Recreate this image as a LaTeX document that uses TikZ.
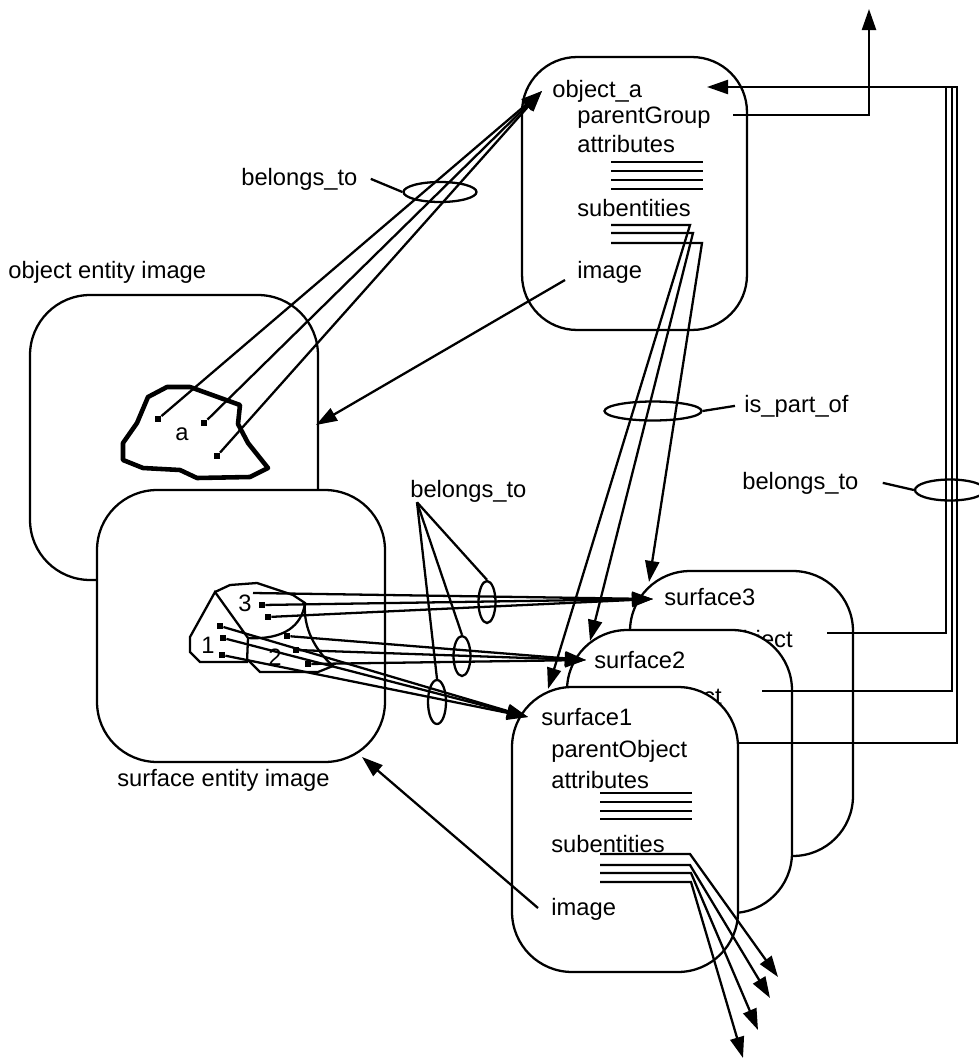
\documentclass[tikz,border=0pt]{standalone}
\usepackage{fontspec}
\setmainfont{Liberation Sans}
\usetikzlibrary{shapes.geometric, arrows.meta, positioning}

\begin{document}
\begin{tikzpicture}[x=0.02cm, y=-0.02cm, font=\fontsize{13.5}{16}\selectfont]
\tikzstyle{entity} = [rectangle, draw, fill=white, line width=1.3pt, rounded corners=1.2cm]
\tikzstyle{txt} = [anchor=base west, inner sep=0pt]
\tikzstyle{ring} = [ellipse, draw, line width=1.3pt, inner sep=0pt]
\tikzstyle{dot} = [rectangle, fill, inner sep=0pt, minimum size=3.5pt]
\tikzstyle{line} = [draw, line width=1.3pt]
\tikzstyle{arr} = [draw, line width=1.3pt, -{Triangle[length=12pt, width=8pt]}]
\tikzstyle{blob} = [draw, line width=2.6pt, line join=round]

\useasboundingbox (0,0) rectangle (979,1061);

% entity images
\node [entity, minimum width=5.76cm, minimum height=5.7cm] (objimg) at (174,437.5) {};
\node [entity, minimum width=5.76cm, minimum height=5.44cm] (surfimg) at (241,626) {};
\node [txt] (objimglbl) at (8,278) {object entity image};
\node [txt] (surfimglbl) at (117,786) {surface entity image};

% object_a
\node [entity, rounded corners=1.1cm, minimum width=4.5cm, minimum height=5.46cm] (obja) at (634.5,193.5) {};
\node [txt] (objname) at (552,97) {object\_a};
\node [txt] (pgroup) at (577,123) {parentGroup};
\node [txt] (attra) at (577,153) {attributes};
\node [txt] (suba) at (577,216) {subentities};
\node [txt] (imga) at (577,278) {image};
\foreach \y in {162,171,180,189} \draw [line] (611,\y) -- (703,\y);

% region a
\draw [blob] (148,397) -- (167,387) -- (190,387) -- (240,405) -- (238,424) -- (248,443) -- (268,468)
  -- (250,477) -- (197,478) -- (180,470) -- (143,468) -- (123,460) -- (123,443) -- (137,423) -- cycle;
\node (alabel) at (182,434) {a};
\node [dot] (a1) at (158,419) {};
\node [dot] (a2) at (204,423) {};
\node [dot] (a3) at (217,456) {};

% regions 1, 2, 3
\draw [line] (215,592) -- (190,637) -- (190,652) -- (200,662) -- (247,662) -- (248,638) -- cycle;
\draw [line] (215,592) -- (230,585) -- (257,583) -- (293,595) -- (305,603)
  .. controls (302,625) and (285,640) .. (248,638);
\draw [line] (248,660) -- (260,672) -- (318,672) -- (333,666)
  .. controls (315,650) and (303,628) .. (305,603);
\node (lbl3) at (245,603) {3};
\node (lbl1) at (208,645) {1};
\node (lbl2) at (275,657) {2};
\coordinate (r3a) at (253,593);
\node [dot] (r3b) at (262,605) {};
\node [dot] (r3c) at (268,617) {};
\node [dot] (r2a) at (287,636) {};
\node [dot] (r2b) at (296,650) {};
\node [dot] (r2c) at (308,664) {};
\node [dot] (r1a) at (220,626) {};
\node [dot] (r1b) at (223,638) {};
\node [dot] (r1c) at (222,655) {};

% surfaces
\node [entity, minimum width=4.46cm, minimum height=5.7cm] (surf3) at (741.5,713.5) {};
\node [txt] (s3name) at (664,605) {surface3};
\node [anchor=base east, inner sep=0pt] (s3par) at (793,647) {parentObject};
\coordinate (p3) at (827,633);
\coordinate (rail1) at (946,87);
\draw [line] (p3) -| (rail1);

\node [entity, minimum width=4.5cm, minimum height=5.66cm] (surf2) at (679.5,771.5) {};
\node [txt] (s2name) at (594,668) {surface2};
\node [anchor=base east, inner sep=0pt] (s2par) at (722,704) {parentObject};
\coordinate (p2) at (762,691);
\coordinate (rail2) at (952,87);
\draw [line] (p2) -| (rail2);

\node [entity, minimum width=4.52cm, minimum height=5.7cm] (surf1) at (625,829.5) {};
\node [txt] (s1name) at (541,725) {surface1};
\node [txt] (s1par) at (551,757) {parentObject};
\node [txt] (s1attr) at (551,788) {attributes};
\node [txt] (s1sub) at (551,852) {subentities};
\node [txt] (s1img) at (551,915) {image};
\foreach \y in {793,802,811,819} \draw [line] (600,\y) -- (692,\y);
\coordinate (p1) at (738,743);
\coordinate (rail3) at (957,87);
\coordinate (objin) at (707,87);
\draw [arr] (p1) -| (rail3) -- (objin);

% parentGroup
\coordinate (pg) at (733,115);
\coordinate (up) at (869,9);
\draw [arr] (pg) -| (up);

% belongs_to: region a
\coordinate (objtip) at (542,91);
\foreach \d in {a1,a2,a3} \draw [arr] (\d) -- (objtip);
\node [ring, minimum width=1.46cm, minimum height=0.4cm] (bt1) at (440,192) {};
\node [txt] (bt1lbl) at (241,185) {belongs\_to};
\draw [line] ([xshift=0.26cm]bt1lbl.east) -- (bt1.west);

% image links
\coordinate (imgafrom) at (565,280);
\coordinate (imgato) at (316,425);
\draw [arr] (imgafrom) -- (imgato);
\coordinate (img1from) at (538,908);
\coordinate (img1to) at (362,757);
\draw [arr] (img1from) -- (img1to);

% is_part_of
\coordinate (s1in) at (528,717);
\coordinate (s2in) at (586,660);
\coordinate (s3in) at (653,599);
\coordinate (s1top) at (548,689);
\coordinate (s2top) at (590,641);
\coordinate (s3top) at (649,582);
\draw [arr] (611,225) -- (690,225) -- (s1top);
\draw [arr] (611,233) -- (693,233) -- (s2top);
\draw [arr] (611,243) -- (702,243) -- (s3top);
\node [ring, minimum width=1.94cm, minimum height=0.38cm] (ipo) at (653,411) {};
\node [txt] (ipolbl) at (744,412) {is\_part\_of};
\draw [line] (ipo.east) -- ([xshift=-0.18cm]ipolbl.west);

% subentities of surface1
\coordinate (t1) at (778,977);
\coordinate (t2) at (770,998);
\coordinate (t3) at (758,1030);
\coordinate (t4) at (743,1058);
\draw [arr] (600,854) -- (690,854) -- (t1);
\draw [arr] (600,865) -- (690,865) -- (t2);
\draw [arr] (600,873) -- (691,873) -- (t3);
\draw [arr] (600,882) -- (691,882) -- (t4);

% belongs_to: regions 1, 2, 3
\foreach \d in {r3a,r3b,r3c} \draw [arr] (\d) -- (s3in);
\foreach \d in {r2a,r2b,r2c} \draw [arr] (\d) -- (s2in);
\foreach \d in {r1a,r1b,r1c} \draw [arr] (\d) -- (s1in);
\node [ring, minimum width=0.34cm, minimum height=0.84cm] (e3) at (487,602) {};
\node [ring, minimum width=0.34cm, minimum height=0.8cm] (e2) at (462,656) {};
\node [ring, minimum width=0.36cm, minimum height=0.88cm] (e1) at (437,702) {};
\node [txt] (bt2lbl) at (410,497) {belongs\_to};
\coordinate (fan) at ([xshift=0.14cm]bt2lbl.south west);
\foreach \e in {e3,e2,e1} \draw [line] (fan) -- (\e.north);

% belongs_to: surfaces
\node [ring, minimum width=1.4cm, minimum height=0.42cm] (bt3) at (950,490) {};
\node [txt] (bt3lbl) at (742,489) {belongs\_to};
\draw [line] ([xshift=0.48cm]bt3lbl.east) -- (bt3.west);
\end{tikzpicture}
\end{document}
